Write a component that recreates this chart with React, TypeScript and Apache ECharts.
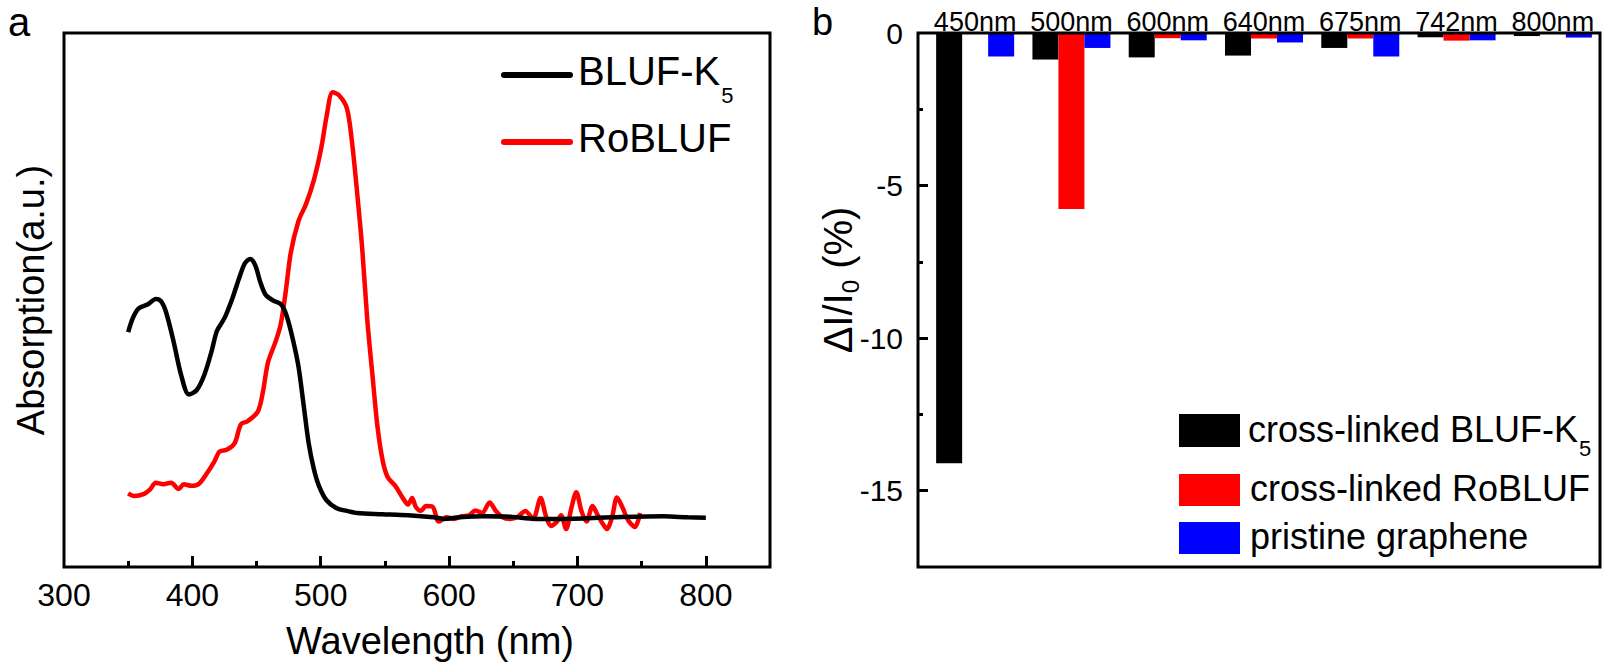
import React, { useEffect, useRef } from "react";
import * as echarts from "echarts";

// ---------- Panel a: absorption spectra (wavelength nm, absorption a.u.) ----------
const wavelengthLabels = [300, 400, 500, 600, 700, 800];
const wavelengthMajorTicks = [400, 500, 600, 700, 800];
const wavelengthMinorTicks = [350, 450, 550, 650, 750];

const blufK5: [number, number][] = [
  [350, 44.0], [353.6, 46.6], [358, 48.4], [365.5, 49.2], [371.5, 50.2], [375.5, 49.8],
  [379.4, 47.8], [385.4, 42.2], [391.3, 35.9], [397.3, 32.3], [403.3, 33.1], [409.2, 35.9],
  [415.2, 40.6], [419.1, 44.2], [425, 46.6], [431, 50.2], [437, 54.5], [441, 56.9],
  [445, 57.7], [449, 56.5], [453, 53.3], [457, 51.0], [463, 49.9], [469, 49.2],
  [473.5, 47.0], [478.7, 42.2], [482.7, 37.5], [486.7, 30.3], [490.6, 23.2], [494.6, 18.4],
  [498.6, 15.2], [504.5, 12.5], [512.5, 11.0], [520.4, 10.5], [528.4, 10.1], [548, 9.9],
  [568, 9.7], [588, 9.3], [596, 9.0], [608, 9.3], [628, 9.5], [648, 9.4], [667, 9.0],
  [687, 9.0], [727, 9.3], [767, 9.5], [786, 9.3], [800, 9.2],
];

const roBLUF: [number, number][] = [
  [350, 13.8], [354.6, 13.3], [362.4, 13.7], [367.3, 14.6], [371.5, 15.8], [377.4, 15.5],
  [383.4, 15.8], [389.4, 14.6], [393.3, 15.5], [399.3, 15.2], [405.2, 15.6], [411.2, 17.5],
  [417.2, 19.8], [421.1, 21.6], [427.1, 22.0], [433, 23.2], [437.8, 26.7], [443, 27.3],
  [451, 29.1], [454.9, 32.7], [458.9, 38.3], [464.8, 42.2], [468.8, 45.4], [472.8, 51.7],
  [476.7, 58.9], [482.7, 64.8], [488.6, 68.0], [494.6, 72.4], [500.6, 78.7], [504.5, 84.3],
  [509.3, 88.9], [514.4, 88.3], [520.4, 85.9], [524.4, 79.5], [528.4, 70.0], [532.3, 59.7],
  [536.3, 46.2], [540.3, 35.9], [544.2, 26.3], [548.2, 20.0], [552.2, 16.8], [558.1, 15.2],
  [564, 12.9], [568, 11.7], [571.2, 12.9], [574, 11.3], [578, 10.5], [582, 11.4],
  [587.1, 11.3], [591.9, 8.5], [597.9, 9.3], [603.8, 9.0], [609.8, 9.5], [615.7, 9.7],
  [620.5, 10.6], [625.7, 10.1], [631.6, 12.1], [636.4, 10.5], [641.6, 9.3], [647.5, 9.0],
  [653.5, 9.4], [659.4, 10.5], [665.4, 9.0], [671.3, 12.9], [675.3, 9.7], [679.3, 7.7],
  [684, 8.5], [687.2, 9.7], [691.2, 7.1], [695.1, 10.9], [699.1, 14.0], [703.1, 10.5],
  [707, 8.5], [711.8, 11.4], [715.8, 9.7], [719.7, 8.1], [722.9, 7.1], [726.9, 9.3],
  [730.8, 13.0], [734.8, 11.3], [739.6, 8.7], [744.8, 7.5], [748.8, 10.1],
];

// ---------- Panel b: ΔI/I0 (%) per wavelength ----------
const bandCategories = ["450nm", "500nm", "600nm", "640nm", "675nm", "742nm", "800nm"];
const crossLinkedBLUFK5 = [-14.1, -0.87, -0.8, -0.74, -0.49, -0.14, -0.1];
const crossLinkedRoBLUF = [0, -5.77, -0.17, -0.18, -0.18, -0.25, 0];
const pristineGraphene = [-0.77, -0.49, -0.24, -0.31, -0.77, -0.24, -0.15];
const deltaLabels = [-15, -10, -5, 0];
const deltaMajorTicks = [-15, -10, -5];
const deltaMinorTicks = [-12.5, -7.5, -2.5];

const FONT = "'Liberation Sans', Arial, sans-serif";
const BLACK = "#000000";
const RED = "#ff0000";
const BLUE = "#0000ff";

export default function App() {
  const ref = useRef<HTMLDivElement>(null);

  useEffect(() => {
    if (!ref.current) return;
    const chart = echarts.init(ref.current, undefined, { renderer: "svg" });

    const tickStyle = { color: BLACK, width: 3 };

    const option: any = {
      animation: false,
      backgroundColor: "#ffffff",
      textStyle: { fontFamily: FONT, color: BLACK },
      grid: [
        { left: 64, top: 33, width: 706, height: 534, show: true, borderColor: BLACK, borderWidth: 3, backgroundColor: "transparent" },
        { left: 927, top: 33, width: 674, height: 534 },
      ],
      xAxis: [
        {
          type: "value", gridIndex: 0, min: 300, max: 850, position: "bottom",
          axisLine: { show: false }, splitLine: { show: false },
          axisTick: { show: true, inside: true, length: 11, lineStyle: tickStyle, customValues: wavelengthMajorTicks },
          axisLabel: { customValues: wavelengthLabels, fontSize: 32, color: BLACK, margin: 12, fontFamily: FONT },
          name: "Wavelength (nm)", nameLocation: "middle", nameGap: 55,
          nameTextStyle: { fontSize: 38, color: BLACK, fontFamily: FONT, padding: [0, 0, 0, 26] },
        },
        {
          type: "value", gridIndex: 0, min: 300, max: 850, position: "bottom",
          axisLine: { show: false }, splitLine: { show: false }, axisLabel: { show: false },
          axisTick: { show: true, inside: true, length: 6, lineStyle: tickStyle, customValues: wavelengthMinorTicks },
        },
        {
          type: "category", gridIndex: 1, data: bandCategories, position: "top",
          axisLine: { show: false }, axisTick: { show: false }, splitLine: { show: false },
          axisLabel: { interval: 0, fontSize: 27, color: BLACK, margin: -2, fontFamily: FONT },
        },
      ],
      yAxis: [
        {
          type: "value", gridIndex: 0, min: 0, max: 100, position: "left",
          axisLine: { show: false }, axisTick: { show: false }, axisLabel: { show: false }, splitLine: { show: false },
          name: "Absorption(a.u.)", nameLocation: "middle", nameGap: 14,
          nameTextStyle: { fontSize: 38, color: BLACK, fontFamily: FONT },
        },
        {
          type: "value", gridIndex: 1, min: -17.5, max: 0, position: "left", offset: 9,
          axisLine: { show: false }, splitLine: { show: false },
          axisTick: { show: true, inside: true, length: 10, lineStyle: tickStyle, customValues: deltaMajorTicks },
          axisLabel: { customValues: deltaLabels, fontSize: 30, color: BLACK, margin: 15, fontFamily: FONT },
        },
        {
          type: "value", gridIndex: 1, min: -17.5, max: 0, position: "left", offset: 9,
          axisLine: { show: false }, splitLine: { show: false }, axisLabel: { show: false },
          axisTick: { show: true, inside: true, length: 5, lineStyle: tickStyle, customValues: deltaMinorTicks },
        },
      ],
      series: [
        {
          type: "line", name: "BLUF-K5", xAxisIndex: 0, yAxisIndex: 0, data: blufK5,
          showSymbol: false, smooth: 0.3, lineStyle: { color: BLACK, width: 4.5 }, itemStyle: { color: BLACK }, z: 3,
        },
        {
          type: "line", name: "RoBLUF", xAxisIndex: 0, yAxisIndex: 0, data: roBLUF,
          showSymbol: false, smooth: 0.3, lineStyle: { color: RED, width: 4.5 }, itemStyle: { color: RED }, z: 2,
        },
        {
          type: "bar", name: "cross-linked BLUF-K5", xAxisIndex: 2, yAxisIndex: 1, data: crossLinkedBLUFK5,
          barWidth: 26, barGap: "0%", itemStyle: { color: BLACK },
        },
        {
          type: "bar", name: "cross-linked RoBLUF", xAxisIndex: 2, yAxisIndex: 1, data: crossLinkedRoBLUF,
          barWidth: 26, barGap: "0%", itemStyle: { color: RED },
        },
        {
          type: "bar", name: "pristine graphene", xAxisIndex: 2, yAxisIndex: 1, data: pristineGraphene,
          barWidth: 26, barGap: "0%", itemStyle: { color: BLUE },
        },
      ],
      graphic: [
        // panel b frame
        { type: "rect", z: 100, shape: { x: 918, y: 33, width: 682, height: 534 }, style: { fill: "none", stroke: BLACK, lineWidth: 3 } },
        // panel letters
        { type: "text", x: 8, y: 22, style: { text: "a", fontSize: 40, fontFamily: FONT, fill: BLACK, verticalAlign: "middle" } },
        { type: "text", x: 812, y: 22, style: { text: "b", fontSize: 38, fontFamily: FONT, fill: BLACK, verticalAlign: "middle" } },
        // panel a legend
        { type: "line", shape: { x1: 504, y1: 75, x2: 570, y2: 75 }, style: { stroke: BLACK, lineWidth: 6, lineCap: "round" } },
        {
          type: "text", x: 578, y: 71,
          style: {
            text: "{m|BLUF-K}{s|5}", verticalAlign: "middle", align: "left", fill: BLACK, fontFamily: FONT,
            rich: {
              m: { fontSize: 40, lineHeight: 40, fontFamily: FONT, fill: BLACK },
              s: { fontSize: 22, lineHeight: 22, padding: [48, 0, 0, 1], fontFamily: FONT, fill: BLACK },
            },
          },
        },
        { type: "line", shape: { x1: 504, y1: 142, x2: 570, y2: 142 }, style: { stroke: RED, lineWidth: 6, lineCap: "round" } },
        { type: "text", x: 578, y: 138, style: { text: "RoBLUF", fontSize: 40, fontFamily: FONT, fill: BLACK, verticalAlign: "middle" } },
        // panel b legend
        { type: "rect", shape: { x: 1179, y: 414, width: 61, height: 33 }, style: { fill: BLACK } },
        {
          type: "text", x: 1248, y: 429,
          style: {
            text: "{m|cross-linked BLUF-K}{s|5}", verticalAlign: "middle", align: "left", fill: BLACK, fontFamily: FONT,
            rich: {
              m: { fontSize: 36, lineHeight: 36, fontFamily: FONT, fill: BLACK },
              s: { fontSize: 22, lineHeight: 22, padding: [38, 0, 0, 1], fontFamily: FONT, fill: BLACK },
            },
          },
        },
        { type: "rect", shape: { x: 1179, y: 474, width: 61, height: 32 }, style: { fill: RED } },
        { type: "text", x: 1250, y: 488, style: { text: "cross-linked RoBLUF", fontSize: 36, fontFamily: FONT, fill: BLACK, verticalAlign: "middle" } },
        { type: "rect", shape: { x: 1179, y: 522, width: 61, height: 32 }, style: { fill: BLUE } },
        { type: "text", x: 1250, y: 536, style: { text: "pristine graphene", fontSize: 36, fontFamily: FONT, fill: BLACK, verticalAlign: "middle" } },
        // panel b y-axis title
        {
          type: "text", x: 838, y: 280, rotation: Math.PI / 2,
          style: {
            text: "{m|ΔI/I}{s|0}{m| (%)}", align: "center", verticalAlign: "middle", fill: BLACK, fontFamily: FONT,
            rich: {
              m: { fontSize: 40, lineHeight: 40, fontFamily: FONT, fill: BLACK },
              s: { fontSize: 24, lineHeight: 24, padding: [24, 0, 0, 0], fontFamily: FONT, fill: BLACK },
            },
          },
        },
      ],
    };

    chart.setOption(option);
    return () => chart.dispose();
  }, []);

  return (
    <div
      ref={ref}
      style={{ position: "fixed", left: 0, top: 0, width: 1608, height: 668, background: "#fff" }}
    />
  );
}
